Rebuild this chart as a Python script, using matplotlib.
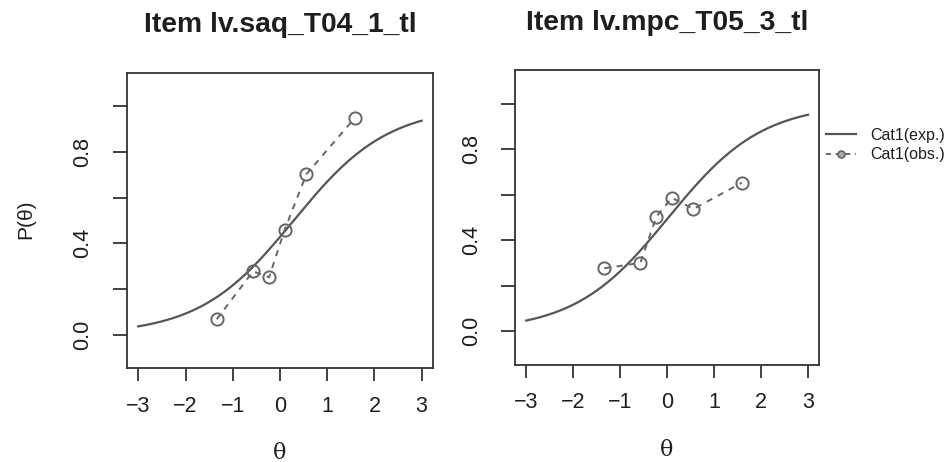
import numpy as np
import matplotlib
matplotlib.use('Agg')
import matplotlib.pyplot as plt
from matplotlib.lines import Line2D

plt.rcParams['font.family'] = ['Liberation Sans', 'DejaVu Sans']

# item titles and 2PL parameters (slope a, location b)
items = ['Item lv.saq_T04_1_tl', 'Item lv.mpc_T05_3_tl']
slopes = [1.0, 1.0]
locations = [0.29, 0.03]

# observed proportions at the group mean abilities
theta_obs = [-1.34, -0.57, -0.23, 0.10, 0.56, 1.59]
saq_obs = [0.067, 0.277, 0.251, 0.46, 0.703, 0.951]
mpc_obs = [0.276, 0.30, 0.503, 0.586, 0.537, 0.652]
observed = [saq_obs, mpc_obs]

legend_labels = ['Cat1(exp.)', 'Cat1(obs.)']

ink = '#1e1e1e'
curve_col = '#555555'
obs_col = '#666666'

def icc(theta, a, b):
  return 1.0 / (1.0 + np.exp(-a * (theta - b)))

def drawItem(ax, title, a, b, obs, ty):
  grid = np.linspace(-3, 3, 301)
  ax.plot(grid, icc(grid, a, b), color=curve_col, lw=1.6, zorder=3)
  ax.plot(theta_obs, obs, color=obs_col, ls=(0, (3.2, 3.2)), lw=1.4,
          marker='o', ms=8.8, mfc='none', mec=obs_col, mew=1.4, zorder=4)
  ax.set_xlim(-3.24, 3.24)
  ax.set_ylim(-0.148, 1.148)
  ax.set_xticks([-3, -2, -1, 0, 1, 2, 3])
  ax.set_xticklabels(['\u22123', '\u22122', '\u22121', '0', '1', '2', '3'])
  ax.set_yticks([0, 0.2, 0.4, 0.6, 0.8, 1.0])
  ax.set_yticklabels(['0.0', '', '0.4', '', '0.8', ''], rotation=90, va='center')
  ax.tick_params(axis='x', length=9, width=1.3, color='#333333', labelsize=15.5,
                 pad=11, labelcolor=ink)
  ax.tick_params(axis='y', length=10, width=1.3, color='#333333', labelsize=15.5,
                 pad=14, labelcolor=ink)
  for s in ax.spines.values():
    s.set_color('#333333')
    s.set_linewidth(1.3)
  ax.set_title(title, fontsize=20.3, fontweight='bold', color=ink, y=ty,
               va='baseline')

fig = plt.figure(figsize=(9.46, 4.62), dpi=100)
ax1 = fig.add_axes([0.1342, 0.2028, 0.3235, 0.6398])
ax2 = fig.add_axes([0.5444, 0.2106, 0.3217, 0.6379])

for ax, title, a, b, obs, ty in zip([ax1, ax2], items, slopes, locations,
                                    observed, [1.111, 1.106]):
  drawItem(ax, title, a, b, obs, ty)

fig.text(0.027, 0.526, 'P(\u03b8)', rotation=90, ha='center', va='center',
         fontsize=15, color=ink)
fig.text(0.296, 0.02, '\u03b8', ha='center', va='center', fontsize=16,
         color=ink, family='DejaVu Serif')
fig.text(0.705, 0.026, '\u03b8', ha='center', va='center', fontsize=16,
         color=ink, family='DejaVu Serif')

handles = [Line2D([], [], color=curve_col, lw=1.6),
           Line2D([], [], color=obs_col, lw=1.4, ls=(0, (2.5, 2.5)), marker='o',
                  ms=5, mfc='#aaaaaa', mec=obs_col, mew=1.2)]
fig.legend(handles, legend_labels, loc='upper left', bbox_to_anchor=(0.873, 0.724),
           frameon=False, fontsize=11.5, handlelength=1.9, handletextpad=0.9,
           labelspacing=0.3, borderpad=0, borderaxespad=0, labelcolor=ink)

fig.savefig('out.png', dpi=100)
